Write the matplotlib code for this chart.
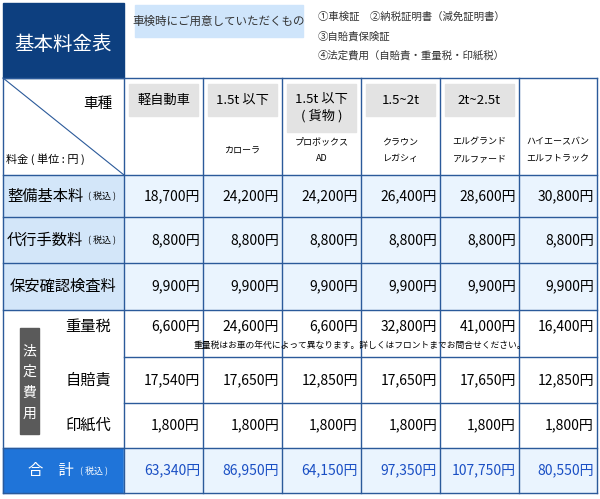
import matplotlib
matplotlib.use("Agg")
import matplotlib.pyplot as plt
from matplotlib.patches import Rectangle

plt.rcParams["font.family"] = "Noto Sans CJK JP"

classes = ["軽自動車", "1.5t 以下", "1.5t 以下\n( 貨物 )", "1.5~2t", "2t~2.5t", ""]
models = ["", "カローラ", "プロボックス\nAD", "クラウン\nレガシィ", "エルグランド\nアルファード", "ハイエースバン\nエルフトラック"]
seibi = [18700, 24200, 24200, 26400, 28600, 30800]
daiko = [8800] * 6
hoan = [9900] * 6
juryo = [6600, 24600, 6600, 32800, 41000, 16400]
jibai = [17540, 17650, 12850, 17650, 17650, 12850]
inshi = [1800] * 6
total = [63340, 86950, 64150, 97350, 107750, 80550]

W, H = 600, 499
fig = plt.figure(figsize=(W/100, H/100), dpi=100)
ax = fig.add_axes([0, 0, 1, 1])
ax.set_xlim(0, W); ax.set_ylim(H, 0); ax.axis("off")

navy = "#0d3f7f"; line = "#2b5a9a"
xs = [3, 124, 203, 282, 361, 440, 519, 597]
ys = [78, 175, 217, 263, 310, 357, 403, 448, 493]

# title block
ax.add_patch(Rectangle((3, 3), 121, 75, color=navy))
ax.text(63, 44, "基本料金表", color="white", fontsize=14, ha="center", va="center")
ax.add_patch(Rectangle((135, 5), 168, 32, color="#cfe5fb"))
ax.text(219, 21, "車検時にご用意していただくもの", fontsize=8.3, ha="center", va="center", color="#333")
for i, t in enumerate(["①車検証　②納税証明書（減免証明書）", "③自賠責保険証", "④法定費用（自賠責・重量税・印紙税）"]):
    ax.text(318, 17 + i*19.5, t, fontsize=7.5, va="center", color="#333")

# backgrounds
for r in range(3):
    ax.add_patch(Rectangle((xs[0], ys[r+1]), xs[1]-xs[0], ys[r+2]-ys[r+1], color="#d3e6f9"))
    ax.add_patch(Rectangle((xs[1], ys[r+1]), xs[-1]-xs[1], ys[r+2]-ys[r+1], color="#eaf4fe"))
ax.add_patch(Rectangle((xs[0], ys[7]), xs[1]-xs[0], ys[8]-ys[7], color="#1f74d9"))
ax.add_patch(Rectangle((xs[1], ys[7]), xs[-1]-xs[1], ys[8]-ys[7], color="#eaf4fe"))

# grid lines
for y in ys:
    x0 = xs[0] if y not in (357, 403) else 124
    ax.plot([x0, xs[-1]], [y, y], color=line, lw=1)
for x in xs:
    ax.plot([x, x], [ys[0], ys[-1]], color=line, lw=1)
ax.plot([3, 124], [78, 175], color=line, lw=0.8)

ax.text(112, 104, "車種", fontsize=10.5, ha="right", va="center")
ax.text(6, 159, "料金 ( 単位 : 円 )", fontsize=8, va="center")

for i in range(6):
    cx = (xs[i+1] + xs[i+2]) / 2
    if classes[i]:
        h = 48 if "\n" in classes[i] else 32
        ax.add_patch(Rectangle((xs[i+1]+5, 84), xs[i+2]-xs[i+1]-10, h, color="#e3e3e3"))
        ax.text(cx, 84 + h/2, classes[i], fontsize=9.5, ha="center", va="center", linespacing=1.3)
    if models[i]:
        ax.text(cx, 150, models[i], fontsize=6.5, ha="center", va="center", linespacing=2.1)

def yen(v):
    return f"{v:,}円"

labels = [("整備基本料", "( 税込 )"), ("代行手数料", "( 税込 )"), ("保安確認検査料", "")]
for r, (lab, sub) in enumerate(labels):
    cy = (ys[r+1] + ys[r+2]) / 2
    if sub:
        ax.text(7, cy, lab, fontsize=11, va="center")
        ax.text(88, cy + 1, sub, fontsize=6.5, va="center")
    else:
        ax.text(63, cy, lab, fontsize=11, ha="center", va="center")

rows = [seibi, daiko, hoan, juryo, jibai, inshi, total]
for r, vals in enumerate(rows):
    cy = (ys[r+1] + ys[r+2]) / 2
    if r == 3:
        cy = ys[4] + 16
    for i, v in enumerate(vals):
        ax.text(xs[i+2] - 3, cy, yen(v), fontsize=10, ha="right", va="center",
                color="#1a4fc4" if r == 6 else "black")

ax.add_patch(Rectangle((20, 328), 19, 106, color="#5a5a5a"))
for k, ch in enumerate("法定費用"):
    ax.text(29.5, 351 + k*21, ch, color="white", fontsize=10, ha="center", va="center")
for r, lab in zip([4, 5, 6], ["重量税", "自賠責", "印紙代"]):
    cy = (ys[r] + ys[r+1]) / 2 if r != 4 else ys[4] + 16
    ax.text(88, cy, lab, fontsize=11, ha="center", va="center")
ax.text(360, 345, "重量税はお車の年代によって異なります。詳しくはフロントまでお問合せください。",
        fontsize=6.3, ha="center", va="center")

ax.text(28, 471, "合　計", color="white", fontsize=11, va="center")
ax.text(80, 472, "( 税込 )", color="white", fontsize=6.5, va="center")

fig.savefig("out.png", dpi=100, facecolor="white")
